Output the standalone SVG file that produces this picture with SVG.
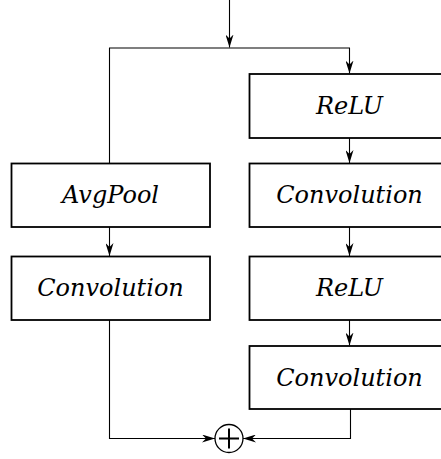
<svg xmlns="http://www.w3.org/2000/svg" width="441" height="459" viewBox="0 0 441 459">
<style>
.box{fill:#fff;stroke:#000;stroke-width:1.8}
.lbl{font-family:"DejaVu Serif",serif;font-style:italic;font-size:24px;fill:#000;text-anchor:middle}
.ln{fill:none;stroke:#000;stroke-width:1.1}
</style>
<defs>
<marker id="ah" viewBox="0 0 13 8" refX="13" refY="4" markerWidth="13" markerHeight="8" markerUnits="userSpaceOnUse" orient="auto">
<path d="M0,0 L13,4 L0,8 L4,4 z" fill="#000"/>
</marker>
</defs>
<g id="connectors">
<path class="ln" d="M229.5,0 V47.5" marker-end="url(#ah)"/>
<path class="ln" d="M109.5,163 V48 H349.5 V73.5" marker-end="url(#ah)"/>
<path class="ln" d="M349.5,138 V163" marker-end="url(#ah)"/>
<path class="ln" d="M349.5,227 V256" marker-end="url(#ah)"/>
<path class="ln" d="M349.5,320 V345.5" marker-end="url(#ah)"/>
<path class="ln" d="M109.5,227 V256" marker-end="url(#ah)"/>
<path class="ln" d="M109.5,320 V438.5 H215" marker-end="url(#ah)"/>
<path class="ln" d="M350.5,409 V438.5 H243" marker-end="url(#ah)"/>
</g>
<g id="relu1"><rect class="box" x="249.5" y="74" width="200" height="64"/><text class="lbl" x="349.5" y="114">ReLU</text></g>
<g id="conv1"><rect class="box" x="249.5" y="163.5" width="200" height="63.5"/><text class="lbl" x="349.5" y="203">Convolution</text></g>
<g id="relu2"><rect class="box" x="249.5" y="256.5" width="200" height="63.5"/><text class="lbl" x="349.5" y="296">ReLU</text></g>
<g id="conv2"><rect class="box" x="249.5" y="346" width="200" height="63"/><text class="lbl" x="349.5" y="386">Convolution</text></g>
<g id="avgpool"><rect class="box" x="11.5" y="163.5" width="198.5" height="63.5"/><text class="lbl" x="110.5" y="203">AvgPool</text></g>
<g id="conv_left"><rect class="box" x="11.5" y="256.5" width="198.5" height="63.5"/><text class="lbl" x="110.5" y="296">Convolution</text></g>
<g id="sum"><circle cx="229" cy="438.5" r="14" fill="#fff" stroke="#000" stroke-width="1.3"/><path d="M229,428.5 V448.5 M219,438.5 H239" stroke="#000" stroke-width="2" fill="none"/></g>
</svg>
